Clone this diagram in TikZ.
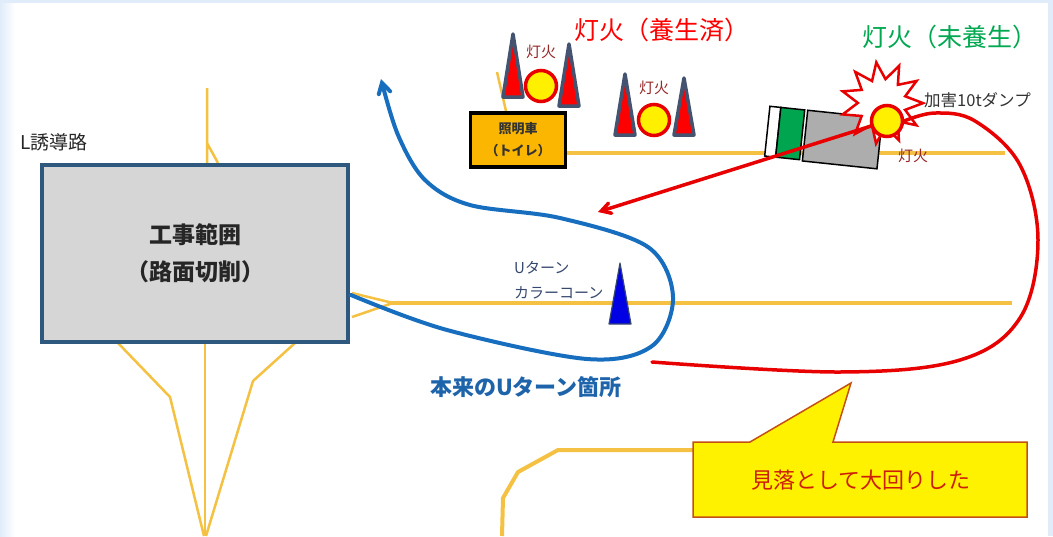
\documentclass[tikz,border=0pt]{standalone}
\usepackage{fontspec}
\setmainfont{Noto Sans CJK JP}
\usetikzlibrary{arrows,shapes.geometric}
\definecolor{roadline}{RGB}{245,193,66}
\definecolor{zoneedge}{RGB}{46,88,125}
\definecolor{zonefill}{RGB}{214,214,214}
\definecolor{carfill}{RGB}{250,182,0}
\definecolor{coneedge}{RGB}{68,84,112}
\definecolor{lampred}{RGB}{232,0,0}
\definecolor{lampyel}{RGB}{255,240,0}
\definecolor{tagred}{RGB}{150,40,40}
\definecolor{pathblue}{RGB}{24,110,190}
\definecolor{txtblue}{RGB}{30,100,170}
\definecolor{slate}{RGB}{55,72,110}
\definecolor{truckgreen}{RGB}{0,165,80}
\definecolor{okgreen}{RGB}{0,168,80}
\definecolor{notebrown}{RGB}{196,80,20}
\definecolor{notered}{RGB}{205,30,10}
\definecolor{bgblue}{RGB}{224,236,250}
\tikzset{
  lbl/.style = {inner sep=0pt, align=center},
  road/.style = {draw=roadline, line width=4, line join=round},
  lane/.style = {draw=roadline, line width=2.5, line join=round},% thin guide lines
  zone/.style = {lbl, draw=zoneedge, fill=zonefill, line width=4, text=black!85,
    minimum width=306, minimum height=177, font=\bfseries\fontsize{23}{37}\selectfont},
  car/.style = {lbl, draw=black, fill=carfill, line width=3.5,
    minimum width=95, minimum height=54, text=black!80,
    font=\bfseries\fontsize{13}{22}\selectfont},
  lamp/.style = {circle, fill=lampyel, draw=lampred, line width=3.5,
    minimum size=31, inner sep=0pt},% yellow lamp, red ring
  tag/.style = {lbl, tagred, font=\fontsize{15}{15}\selectfont},% small lamp tag
  redpath/.style = {draw=lampred, line width=3.5, line cap=round},
  bluepath/.style = {draw=pathblue, line width=4, line cap=round},
  cone/.pic = {\draw[coneedge, fill=red, line width=3.5, line join=round]
    (-10,0) -- (0,-#1) -- (10,0) -- cycle;}
}
\begin{document}
\begin{tikzpicture}[x=1pt, y=-1pt, >=angle 60]
\useasboundingbox (0,0) rectangle (1053,536);
\fill[bgblue] (0,0) rectangle (1053,536);
\shade[left color=bgblue, right color=white] (0,3) rectangle (15,536);
\fill[white] (15,3) rectangle (1048,536);

% roads
\draw[lane] (207,88) -- (207,163) (207,143) -- (218,163);
\draw[lane] (118,343) -- (170,397) -- (204,536);
\draw[lane] (205,343) -- (205,536);
\draw[lane] (295,343) -- (253,381) -- (206,536);
\draw[lane] (497,72) -- (506,111);
\draw[lane] (352,293) -- (393,303) (352,317) -- (390,304);
\draw[road] (390,303) -- (1012,303);
\draw[road] (567,153) -- (1005,153);
\draw[road] (502,536) -- (503,498) -- (518,472) -- (558,450) -- (693,450);

% work area
\node[zone] (zone) at (195,253) {工事範囲\\（路面切削）};
\node[lbl, anchor=west, font=\fontsize{19}{19}\selectfont, text=black!85] (guide) at (20,142) {L誘導路};

% lighting car and lamps
\node[car] (car) at (518,140) {照明車\\（トイレ）};
\pic at (513,97) {cone=63};
\pic at (569,106) {cone=62};
\pic at (625,135) {cone=61};
\pic at (684,135) {cone=57};
\node[lamp] (lamp1) at (541,86) {};
\node[lamp] (lamp2) at (654,120) {};
\node[tag] (tag1) at (541,52) {灯火};
\node[tag] (tag2) at (654,88) {灯火};
\node[lbl, anchor=west, red, font=\fontsize{25}{25}\selectfont] (done) at (574,30) {灯火（養生済）};
\node[lbl, anchor=west, okgreen, font=\fontsize{25}{25}\selectfont] (open) at (862,37) {灯火（未養生）};

% dump truck
\begin{scope}[shift={(823,137)}, rotate=-6, truck/.style={draw=black, line width=1.5}]
  \draw[truck, fill=white] (-56,-25) rectangle (-45,25);
  \draw[truck, fill=truckgreen] (-45,-25) rectangle (-21,25);
  \draw[truck, fill=black!32] (-18,-25) rectangle (57,26);
\end{scope}
\node[star, star points=11, star point ratio=1.7, minimum size=82, draw=lampred,
  fill=white, line width=2.5, rotate=8] (boom) at (882,103) {};
\node[lamp] (lamp3) at (887,121) {};
\node[tag] (tag3) at (913,156) {灯火};
\node[lbl, anchor=west, text=black!80, font=\fontsize{16.5}{16.5}\selectfont] (dump) at (924,100) {加害10tダンプ};

% u-turn cone
\draw[draw=slate, fill=blue!90!black, line width=1.2, line join=round] (609,324) -- (620,263) -- (631,324) -- cycle;
\node[lbl, anchor=west, align=left, text=slate, font=\fontsize{15}{25}\selectfont] (uname) at (514,280) {Uターン\\カラーコーン};
\node[lbl, anchor=west, txtblue, font=\bfseries\fontsize{22}{22}\selectfont] (uspot) at (430,387) {本来のUターン箇所};

% paths
\coordinate (bfrom) at (351,295);
\coordinate (bto) at (381,79);
\draw[bluepath, ->] plot[smooth, tension=0.55] coordinates {(bfrom) (447,330) (587,359)
  (652,346) (673,297) (648,247) (560,218) (470,205) (425,180) (398,135) (bto)};
\coordinate (rfrom) at (652,362);
\coordinate (rto) at (598,212);
\draw[redpath] plot[smooth, tension=0.6] coordinates {(rfrom) (840,372) (960,360)
  (1020,318) (1038,240) (1020,165) (975,121) (935,113) (lamp3.east)};
\draw[redpath, ->] (lamp3) -- (rto);

% callout
\draw[draw=notebrown, fill=yellow, line width=1.5, line join=miter]
  (693,442) -- (750,442) -- (851,383) -- (833,442) -- (1027,442) -- (1027,517) -- (693,517) -- cycle;
\node[lbl, notered, font=\fontsize{22}{22}\selectfont] (miss) at (861,480) {見落として大回りした};
\end{tikzpicture}
\end{document}
